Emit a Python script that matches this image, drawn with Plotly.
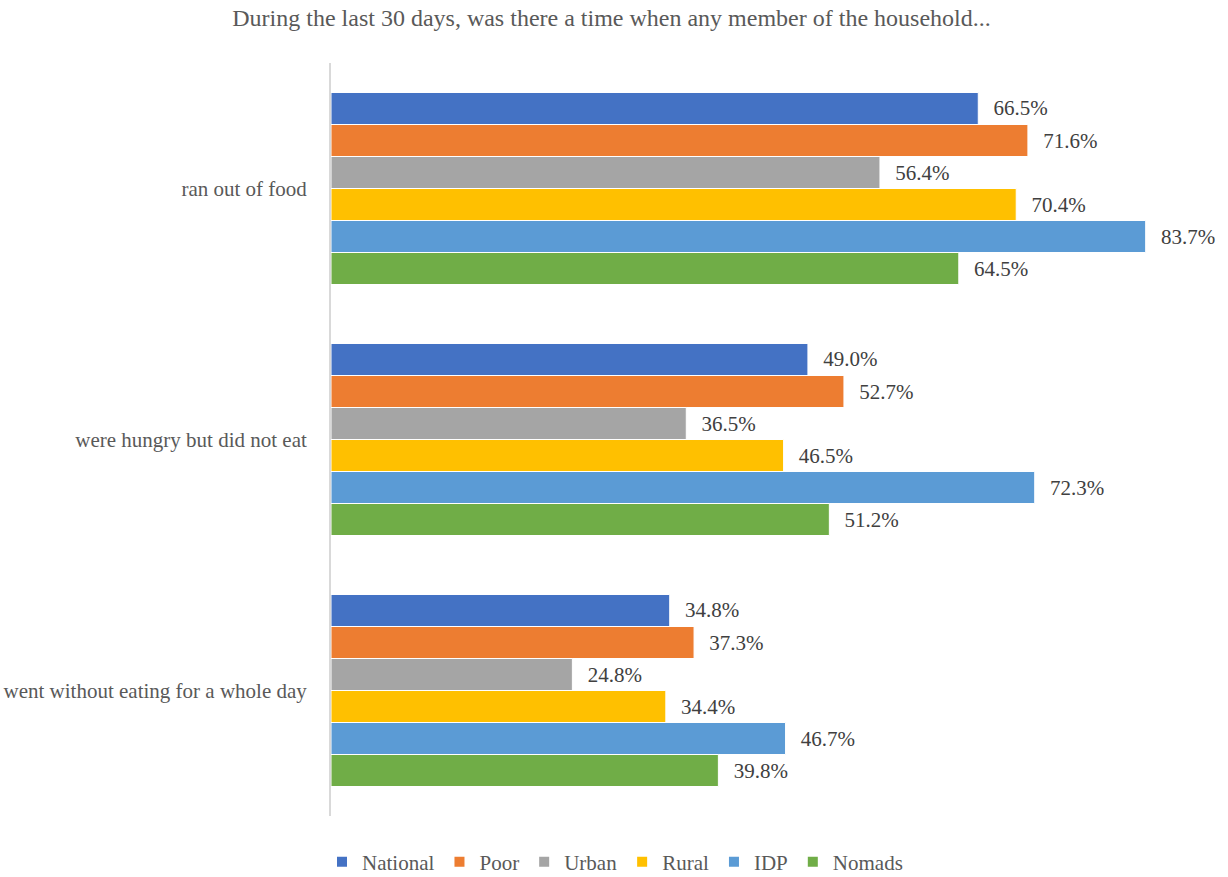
import plotly.graph_objects as go

categories = ["ran out of food", "were hungry but did not eat", "went without eating for a whole day"]
series_names = ["National", "Poor", "Urban", "Rural", "IDP", "Nomads"]
national = [66.5, 49.0, 34.8]
poor = [71.6, 52.7, 37.3]
urban = [56.4, 36.5, 24.8]
rural = [70.4, 46.5, 34.4]
idp = [83.7, 72.3, 46.7]
nomads = [64.5, 51.2, 39.8]

colors = ["#4472C4", "#ED7D31", "#A5A5A5", "#FFC000", "#5B9BD5", "#70AD47"]
series_values = [national, poor, urban, rural, idp, nomads]

FONT = "Liberation Serif, Times New Roman, serif"
FS = 21

fig = go.Figure()
for name, vals, col in zip(series_names, series_values, colors):
    fig.add_trace(go.Bar(
        y=categories,
        x=vals,
        name=name,
        orientation="h",
        marker=dict(color=col, line=dict(color="white", width=1)),
        text=["\u2002\u200a" + f"{v:.1f}%" for v in vals],
        textposition="outside",
        textfont=dict(family=FONT, size=FS, color="#404040"),
        cliponaxis=False,
    ))

fig.update_layout(
    width=1228,
    height=877,
    barmode="group",
    bargap=0.235,
    bargroupgap=0,
    plot_bgcolor="white",
    paper_bgcolor="white",
    font=dict(family=FONT, size=FS, color="#595959"),
    margin=dict(l=331, r=21, t=63, b=61, autoexpand=False),
    title=dict(
        text="During the last 30 days, was there a time when any member of the household...",
        x=611.5 / 1228, xanchor="center", xref="container",
        y=1 - 18 / 877, yanchor="middle", yref="container",
        font=dict(family=FONT, size=24, color="#595959"),
    ),
    xaxis=dict(range=[0, 90], visible=False, showgrid=False, zeroline=False),
    yaxis=dict(
        autorange="reversed",
        showline=True, linecolor="#D9D9D9", linewidth=2,
        ticks="", showgrid=False,
        ticklabelstandoff=18,
        tickfont=dict(family=FONT, size=FS, color="#595959"),
    ),
    legend=dict(
        orientation="h",
        x=615 / 1228, xanchor="center", xref="container",
        y=1 - 862 / 877, yanchor="middle", yref="container",
        traceorder="normal",
        font=dict(family=FONT, size=FS, color="#595959"),
        itemwidth=30,
        itemsizing="constant",
    ),
    showlegend=True,
)

fig.write_html("out.html")
